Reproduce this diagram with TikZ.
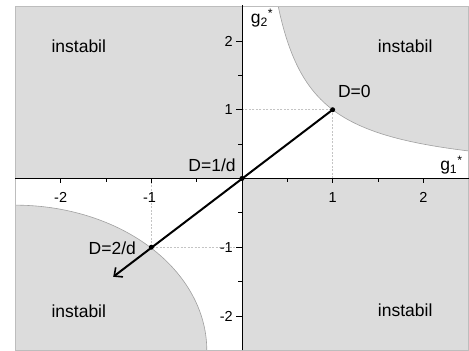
\documentclass[tikz,border=0pt]{standalone}
\usepackage{fontspec}
\setmainfont{Liberation Sans}
\usetikzlibrary{arrows.meta}
\definecolor{regiongray}{HTML}{DCDCDC}
\definecolor{edgegray}{HTML}{A0A0A0}
\definecolor{framegray}{HTML}{BDBDBD}
\definecolor{guidegray}{HTML}{C4C4C4}
\tikzset{
  region/.style={fill=regiongray},
  boundary/.style={draw=edgegray, line width=0.6pt},
  framebox/.style={draw=framegray, line width=0.7pt},
  guide/.style={draw=guidegray, line width=0.5pt, dash pattern=on 2pt off 1.5pt},
  tick/.style={draw=black, line width=0.9pt},
  ticklabel/.style={font=\fontsize{14.5}{16}\selectfont, inner sep=0pt},
  lbl/.style={font=\fontsize{17.5}{20}\selectfont, inner sep=0pt},
  dot/.style={circle, fill=black, inner sep=0pt, minimum size=5pt},
}
\begin{document}
\begin{tikzpicture}[x=90.67pt, y=68.75pt]
\useasboundingbox (-2.669,-2.509) rectangle (2.504,2.596);
% gray regions
\fill[region] (-2.5,0) rectangle (0,2.5);
\fill[region] (0,-2.5) rectangle (2.5,0);
\fill[region] plot[domain=0.4:2.5, samples=100] (\x,{1/\x}) -- (2.5,2.5) -- cycle;
\fill[region] (-2.5,-2.5) -- plot[domain=0:90, samples=100] ({-2.5+2.112*cos(\x)},{-2.5+2.112*sin(\x)}) -- cycle;
% boundaries
\draw[boundary] plot[domain=0.4:2.5, samples=100] (\x,{1/\x});
\draw[boundary] plot[domain=0:90, samples=100] ({-2.5+2.112*cos(\x)},{-2.5+2.112*sin(\x)});
% frame
\draw[framebox] (-2.5,-2.5) rectangle (2.5,2.5);
% guides
\draw[guide] (1,0) -- (1,1) -- (0,1);
\draw[guide] (-1,0) -- (-1,-1) -- (0,-1);
% axes
\draw[line width=1.8pt] (-2.5,0) -- (2.5,0);
\draw[line width=0.9pt] (0,-2.5) -- (0,2.52);
% ticks
\foreach \t in {-2,-1,1,2} {
  \draw[tick] (\t,0) -- ++(0,-5pt);
  \draw[tick] (0,\t) -- ++(-6pt,0);
}
\foreach \t in {-1.5,-0.5,0.5,1.5} {
  \draw[tick] (\t,0) -- ++(0,-3.5pt);
  \draw[tick] (0,\t) -- ++(-3.5pt,0);
}
% tick labels
\node[ticklabel] (xm2) at (-2,-0.27) {-2};
\node[ticklabel] (xm1) at (-1.02,-0.27) {-1};
\node[ticklabel] (xp1) at (1,-0.27) {1};
\node[ticklabel] (xp2) at (2,-0.27) {2};
\node[ticklabel, anchor=east] (yp2) at (-0.1,2) {2};
\node[ticklabel, anchor=east] (yp1) at (-0.1,1) {1};
\node[ticklabel, anchor=east] (ym1) at (-0.1,-1) {-1};
\node[ticklabel, anchor=east] (ym2) at (-0.1,-2) {-2};
% axis labels
\node[lbl] (g2) at (0.22,2.33) {g\textsubscript{2}\textsuperscript{*}};
\node[lbl] (g1) at (2.31,0.19) {g\textsubscript{1}\textsuperscript{*}};
% points and arrow
\node[dot] (p1) at (1,1) {};
\node[dot] (p0) at (0,0) {};
\node[dot] (p2) at (-1,-1) {};
\coordinate (tip) at (-1.42,-1.43);
\draw[line width=2pt, -{Straight Barb[length=6.5pt,width=12pt,line width=1.6pt]}] (p1.center) -- (tip);
% point labels
\node[lbl] (l0) at (1.24,1.26) {D=0};
\node[lbl] (l1) at (-0.33,0.19) {D=1/d};
\node[lbl] (l2) at (-1.43,-1.015) {D=2/d};
% region labels
\node[lbl] (r1) at (-1.80,1.92) {instabil};
\node[lbl] (r2) at (1.80,1.92) {instabil};
\node[lbl] (r3) at (-1.80,-1.93) {instabil};
\node[lbl] (r4) at (1.80,-1.92) {instabil};
\end{tikzpicture}
\end{document}
